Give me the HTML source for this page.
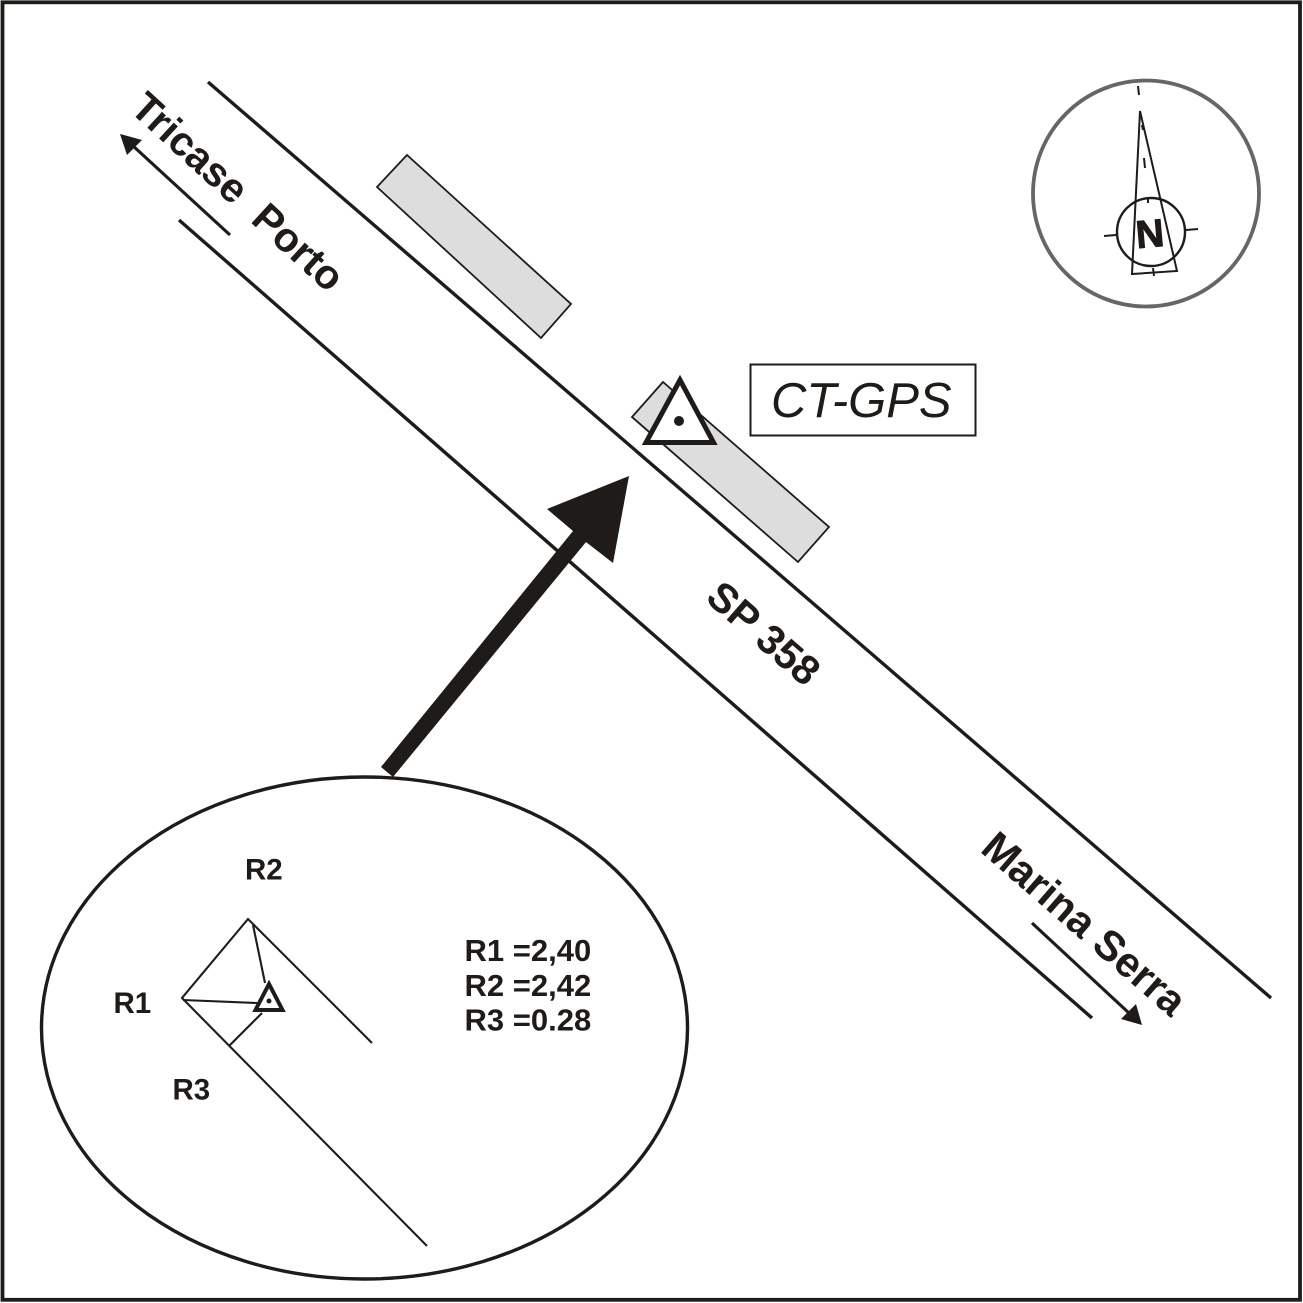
<!DOCTYPE html>
<html>
<head>
<meta charset="utf-8">
<style>
html,body{margin:0;padding:0;background:#fff}
svg{display:block}
text{font-family:"Liberation Sans",Arial,sans-serif;fill:#1e1b19}
.b{font-weight:bold}
</style>
</head>
<body>
<svg width="1303" height="1303" viewBox="0 0 1303 1303" xmlns="http://www.w3.org/2000/svg">
<rect width="1303" height="1303" fill="#fff"/>
<rect x="2.5" y="2.3" width="1297.5" height="1297.5" fill="none" stroke="#1e1b19" stroke-width="3.8"/>

<!-- road -->
<line x1="208" y1="82" x2="1271" y2="998" stroke="#1e1b19" stroke-width="3.4"/>
<line x1="179" y1="220" x2="1092" y2="1018" stroke="#1e1b19" stroke-width="3.4"/>

<!-- buildings -->
<polygon points="407,155 377,187 541,338 571,304" fill="#dcdddc" stroke="#1e1b19" stroke-width="1.8"/>
<polygon points="663,382 632,417 798,562 829,527" fill="#dcdddc" stroke="#1e1b19" stroke-width="1.8"/>

<!-- station triangle -->
<polygon points="680,380 646,442.5 713.5,442.5" fill="#fff" stroke="#1e1b19" stroke-width="5"/>
<circle cx="679" cy="421" r="5" fill="#1e1b19"/>

<!-- label box -->
<rect x="750.5" y="364.5" width="225" height="71" fill="#fff" stroke="#1e1b19" stroke-width="2"/>
<text x="771" y="417" font-size="49" font-style="italic">CT-GPS</text>

<!-- big arrow -->
<polygon points="381,767 573,531 547,509 629,476 613,563 586,542 393,777" fill="#1e1b19"/>

<!-- direction arrows -->
<line x1="230" y1="235" x2="132" y2="145" stroke="#1e1b19" stroke-width="3.2"/>
<polygon points="120,134 142,140 127,155" fill="#1e1b19"/>
<line x1="1032" y1="923" x2="1130" y2="1014" stroke="#1e1b19" stroke-width="3.2"/>
<polygon points="1142,1025 1136,1004 1121,1019" fill="#1e1b19"/>

<!-- rotated labels -->
<text class="b" font-size="41" transform="translate(128.5,110.5) rotate(42.5)" xml:space="preserve">Tricase  Porto</text>
<text class="b" font-size="41" transform="translate(704,600) rotate(41)">SP 358</text>
<text class="b" font-size="42" transform="translate(979,851) rotate(41)">Marina Serra</text>

<!-- compass -->
<circle cx="1146" cy="193.5" r="113" fill="none" stroke="#666" stroke-width="3.8"/>
<circle cx="1151" cy="232" r="34" fill="none" stroke="#1e1b19" stroke-width="2.4"/>
<polygon points="1140,111 1132,274 1177,271" fill="none" stroke="#1e1b19" stroke-width="2"/>
<g stroke="#1e1b19" stroke-width="2" fill="none">
<line x1="1138" y1="86" x2="1139" y2="95"/>
<line x1="1142" y1="125" x2="1143" y2="130"/>
<line x1="1144" y1="158" x2="1145" y2="168"/>
<line x1="1148" y1="197" x2="1148" y2="203"/>
<line x1="1153" y1="268" x2="1154" y2="276"/>
<line x1="1104" y1="236" x2="1116" y2="235"/>
<line x1="1186" y1="230" x2="1198" y2="229"/>
</g>
<text class="b" font-size="39" text-anchor="middle" stroke="#1e1b19" stroke-width="1" transform="translate(1151,247) rotate(-5)">N</text>

<!-- inset ellipse -->
<ellipse cx="364.5" cy="1028" rx="323" ry="251" fill="none" stroke="#1e1b19" stroke-width="3.4"/>

<!-- inset drawing -->
<g stroke="#1e1b19" stroke-width="2.1" fill="none">
<polyline points="372,1043 248,919 182,998 427,1246"/>
<line x1="253" y1="925" x2="265" y2="983"/>
<line x1="183" y1="1000" x2="257" y2="1003"/>
<line x1="229" y1="1046" x2="262" y2="1013"/>
</g>
<polygon points="269,984 255.5,1010 282.5,1010" fill="#fff" stroke="#1e1b19" stroke-width="4"/>
<circle cx="269" cy="1001" r="2.5" fill="#1e1b19"/>

<!-- inset labels -->
<text class="b" font-size="29.5" x="245" y="879.5">R2</text>
<text class="b" font-size="29.5" x="113.5" y="1013">R1</text>
<text class="b" font-size="29.5" x="172.5" y="1099.5">R3</text>
<text class="b" font-size="31" x="464.5" y="961">R1 =2,40</text>
<text class="b" font-size="31" x="464.5" y="996">R2 =2,42</text>
<text class="b" font-size="31" x="464.5" y="1030.5">R3 =0.28</text>
</svg>
</body>
</html>
